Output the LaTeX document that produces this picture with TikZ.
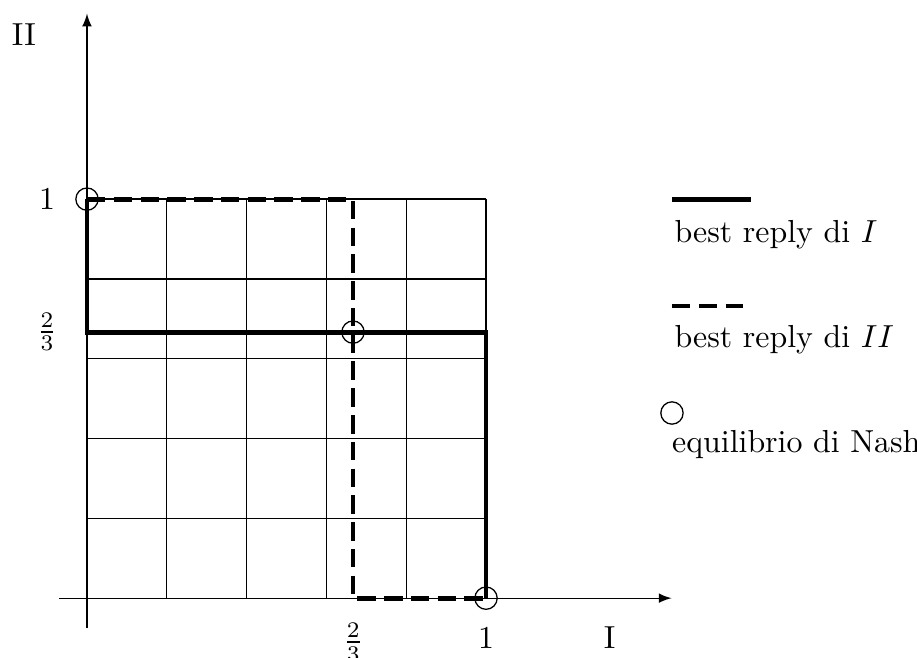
\documentclass[tikz,border=0pt]{standalone}
\usepackage{amsmath}
\usepackage{amssymb}
\usetikzlibrary{calc,positioning}
\tikzset{
  brI/.style={line width=1.5pt},
  brII/.style={line width=1.5pt,dash pattern=on 5.8pt off 2.6pt},
  nash/.style={draw,circle,minimum size=7pt,inner sep=0pt},
  lgd/.style={anchor=base west,inner sep=0pt},
}

\begin{document}
\begin{tikzpicture}[x=4.4cm,y=4.4cm]
    \useasboundingbox (-0.218,-0.148) rectangle (2.080,1.499);
    % grid
    \foreach \k in {0,0.2,...,1.01} {
      \draw[thin] (\k,0) -- (\k,1);
      \draw[thin] (0,\k) -- (1,\k);
    }
    % axes
    \coordinate (xa) at (-0.07,0);
    \coordinate (xb) at (1.465,0);
    \coordinate (ya) at (0,-0.075);
    \coordinate (yb) at (0,1.465);
    \draw[-latex] (xa) -- (xb);
    \draw[-latex] (ya) -- (yb);
    \node (lI) at (1.31,-0.1) {I};
    \node (lII) at (-0.158,1.411) {II};
    \node (lx1) at (1,-0.1) {$1$};
    \node (lx23) at (0.667,-0.11) {$\frac{2}{3}$};
    \node (ly1) at (-0.1,1) {$1$};
    \node (ly23) at (-0.1,0.667) {$\frac{2}{3}$};

    % equilibria
    \node[nash] (e1) at (0,1) {};
    \node[nash] (e2) at (2/3,2/3) {};
    \node[nash] (e3) at (1,0) {};
    \coordinate (s1) at (0,2/3);
    \coordinate (s2) at (1,2/3);
    \coordinate (d1) at (2/3,1);
    \coordinate (d2) at (2/3,0);

    % best replies
    \draw[brI] (e1.center) -- (s1) -- (s2) -- (e3.center);
    \draw[brII] (e1.center) -- (d1) -- (d2) -- (e3.center);

    % legend
    \draw[brI] (1.466,1) coordinate (l1a) -- (1.664,1) coordinate (l1b);
    \node[lgd] (t1) at (1.471,0.892) {best reply di $I$};
    \draw[brII] (1.466,0.732) coordinate (l2a) -- (1.644,0.732) coordinate (l2b);
    \node[lgd] (t2) at (1.471,0.629) {best reply di $II$};
    \node[nash] (l3) at (1.466,0.464) {};
    \node[lgd] (t3) at (1.465,0.366) {equilibrio di Nash};
\end{tikzpicture}
\end{document}
